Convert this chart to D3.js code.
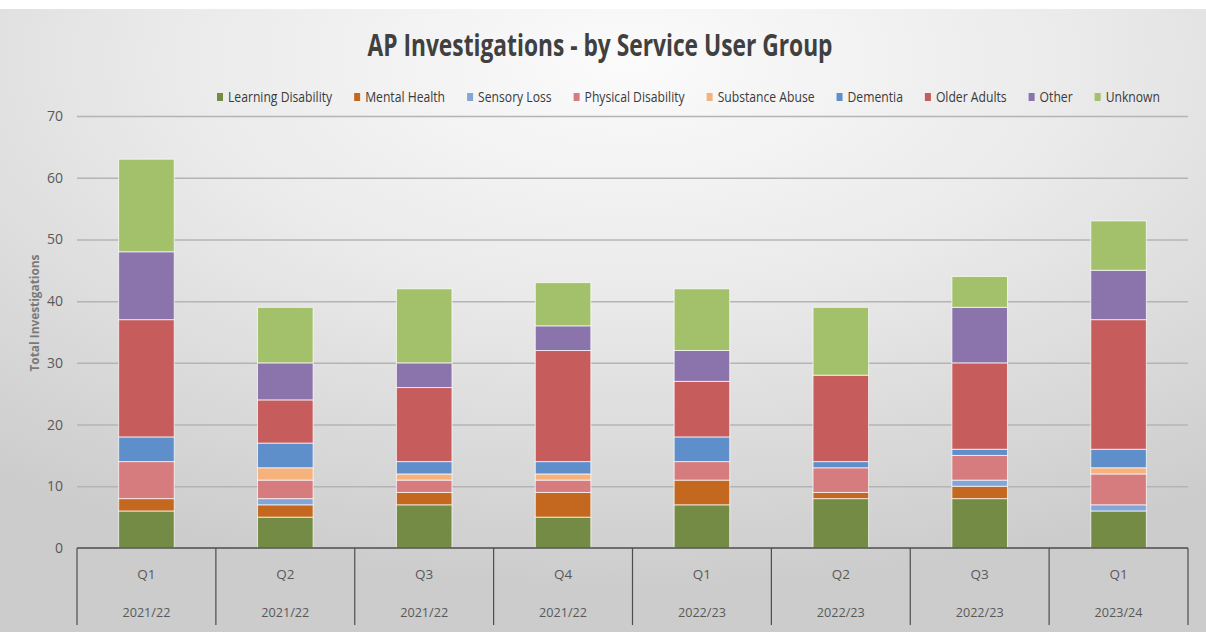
<!DOCTYPE html>
<html>
<head>
<meta charset="utf-8">
<script src="https://cdn.jsdelivr.net/npm/d3@7/dist/d3.min.js"></script>
<style>
  html, body { margin: 0; padding: 0; background: #fff; }
  svg { display: block; }
</style>
</head>
<body>
<svg id="chart" width="1206" height="632"></svg>
<script>
// chart values
var quarters = ["Q1", "Q2", "Q3", "Q4", "Q1", "Q2", "Q3", "Q1"];
var years = ["2021/22", "2021/22", "2021/22", "2021/22", "2022/23", "2022/23", "2022/23", "2023/24"];

var groups = ["Learning Disability", "Mental Health", "Sensory Loss", "Physical Disability",
    "Substance Abuse", "Dementia", "Older Adults", "Other", "Unknown"];

var learningDisability = [6, 5, 7, 5, 7, 8, 8, 6];
var mentalHealth       = [2, 2, 2, 4, 4, 1, 2, 0];
var sensoryLoss        = [0, 1, 0, 0, 0, 0, 1, 1];
var physicalDisability = [6, 3, 2, 2, 3, 4, 4, 5];
var substanceAbuse     = [0, 2, 1, 1, 0, 0, 0, 1];
var dementia           = [4, 4, 2, 2, 4, 1, 1, 3];
var olderAdults        = [19, 7, 12, 18, 9, 14, 14, 21];
var other              = [11, 6, 4, 4, 5, 0, 9, 8];
var unknown            = [15, 9, 12, 7, 10, 11, 5, 8];

var yTicks = [0, 10, 20, 30, 40, 50, 60, 70];

var colors = ["#738b45", "#c4681f", "#84a6d6", "#d67c7e", "#f5b27c",
    "#5f8fcb", "#c65d5c", "#8b73ab", "#a3c16a"];

var seriesValues = [learningDisability, mentalHealth, sensoryLoss, physicalDisability,
    substanceAbuse, dementia, olderAdults, other, unknown];

// table for d3.stack
var rows = quarters.map(function(q, i) {
    var r = {key: i};
    groups.forEach(function(g, j) { r[g] = seriesValues[j][i]; });
    return r;
});

var svg = d3.select("#chart");
var W = 1206, H = 632;
var plotLeft = 77, plotRight = 1188, plotTop = 116, plotBottom = 548, axisBottom = 625;

// background
var defs = svg.append("defs");
var grad = defs.append("radialGradient")
    .attr("id", "bg")
    .attr("cx", "52%").attr("cy", "8%")
    .attr("r", "85%")
    .attr("gradientUnits", "objectBoundingBox");
grad.append("stop").attr("offset", "0%").attr("stop-color", "#fbfbfb");
grad.append("stop").attr("offset", "45%").attr("stop-color", "#eaeaea");
grad.append("stop").attr("offset", "100%").attr("stop-color", "#cccccc");

svg.append("rect").attr("width", W).attr("height", H).attr("fill", "#fff");
svg.append("rect").attr("x", 0).attr("y", 9).attr("width", W).attr("height", H - 9)
    .attr("fill", "url(#bg)");

var x = d3.scaleBand()
    .domain(d3.range(quarters.length))
    .range([plotLeft, plotRight])
    .padding(0);

var y = d3.scaleLinear()
    .domain([0, 70])
    .range([plotBottom, plotTop]);

var barW = x.bandwidth() * 0.4;

// gridlines + y labels
var yAxis = d3.axisLeft(y)
    .tickValues(yTicks)
    .tickSize(-(plotRight - plotLeft))
    .tickPadding(14);

var gy = svg.append("g")
    .attr("transform", "translate(" + plotLeft + ",0)")
    .call(yAxis);
gy.select(".domain").remove();
gy.selectAll(".tick line")
    .attr("stroke", function(d) { return d === 0 ? "none" : "#b4b4b4"; })
    .attr("stroke-width", 1.5);
gy.selectAll(".tick text")
    .attr("fill", "#595959")
    .style("font-family", "'Open Sans', sans-serif")
    .style("font-size", "14px");

// stacked bars
var stack = d3.stack().keys(groups);
var layers = stack(rows);

svg.append("g").selectAll("g")
    .data(layers)
    .enter().append("g")
    .attr("fill", function(d, i) { return colors[i]; })
    .selectAll("rect")
    .data(function(d) { return d.filter(function(s) { return s[1] > s[0]; }); })
    .enter().append("rect")
    .attr("x", function(d) { return x(d.data.key) + (x.bandwidth() - barW) / 2; })
    .attr("y", function(d) { return y(d[1]); })
    .attr("width", barW)
    .attr("height", function(d) { return y(d[0]) - y(d[1]); })
    .attr("stroke", "#ffffff")
    .attr("stroke-opacity", 0.7)
    .attr("stroke-width", 1);

// category axis (two rows)
var ax = svg.append("g");
ax.append("line")
    .attr("x1", plotLeft).attr("x2", plotRight)
    .attr("y1", plotBottom).attr("y2", plotBottom)
    .attr("stroke", "#4d4d4d").attr("stroke-width", 1.5);

var edges = d3.range(quarters.length).map(function(i) { return x(i); }).concat([plotRight]);
ax.selectAll(".div")
    .data(edges)
    .enter().append("line")
    .attr("x1", function(d) { return d; }).attr("x2", function(d) { return d; })
    .attr("y1", plotBottom).attr("y2", axisBottom)
    .attr("stroke", "#4d4d4d").attr("stroke-width", 1.2);

ax.selectAll(".q")
    .data(quarters)
    .enter().append("text")
    .attr("x", function(d, i) { return x(i) + x.bandwidth() / 2; })
    .attr("y", 579)
    .attr("text-anchor", "middle")
    .attr("fill", "#595959")
    .style("font-family", "'Open Sans', sans-serif")
    .style("font-size", "13.5px")
    .text(function(d) { return d; });

ax.selectAll(".yr")
    .data(years)
    .enter().append("text")
    .attr("x", function(d, i) { return x(i) + x.bandwidth() / 2; })
    .attr("y", 617)
    .attr("text-anchor", "middle")
    .attr("fill", "#595959")
    .attr("textLength", 48)
    .attr("lengthAdjust", "spacingAndGlyphs")
    .style("font-family", "'Open Sans', sans-serif")
    .style("font-size", "13.5px")
    .text(function(d) { return d; });

// y axis title
svg.append("text")
    .attr("transform", "translate(39,313) rotate(-90)")
    .attr("text-anchor", "middle")
    .attr("fill", "#7a7a7a")
    .attr("textLength", 117)
    .attr("lengthAdjust", "spacingAndGlyphs")
    .style("font-family", "'Open Sans', sans-serif")
    .style("font-size", "12.5px")
    .style("font-weight", "bold")
    .text("Total Investigations");

// title
svg.append("text")
    .attr("x", 600)
    .attr("y", 56)
    .attr("text-anchor", "middle")
    .attr("fill", "#404040")
    .attr("textLength", 465)
    .attr("lengthAdjust", "spacingAndGlyphs")
    .style("font-family", "'Open Sans', sans-serif")
    .style("font-size", "31px")
    .style("font-weight", "bold")
    .text("AP Investigations - by Service User Group");

// legend: measure, then squeeze into the span the reference uses
var legStart = 217, legEnd = 1160, sq = 6, sqGap = 5, itemGap = 22;
var leg = svg.append("g");
var items = leg.selectAll("g")
    .data(groups)
    .enter().append("g");
items.append("rect")
    .attr("width", sq).attr("height", 8)
    .attr("y", 93)
    .attr("fill", function(d, i) { return colors[i]; });
var labels = items.append("text")
    .attr("y", 102)
    .attr("fill", "#3a3a3a")
    .style("font-family", "'Open Sans', sans-serif")
    .style("font-size", "14px")
    .text(function(d) { return d; });

var widths = [];
labels.each(function() { widths.push(this.getComputedTextLength()); });
var fixed = groups.length * (sq + sqGap) + (groups.length - 1) * itemGap;
var k = (legEnd - legStart - fixed) / d3.sum(widths);
var cx = legStart;
items.each(function(d, i) {
    var g = d3.select(this);
    g.select("rect").attr("x", cx);
    g.select("text")
        .attr("x", cx + sq + sqGap)
        .attr("textLength", widths[i] * k)
        .attr("lengthAdjust", "spacingAndGlyphs");
    cx += sq + sqGap + widths[i] * k + itemGap;
});
</script>
</body>
</html>
